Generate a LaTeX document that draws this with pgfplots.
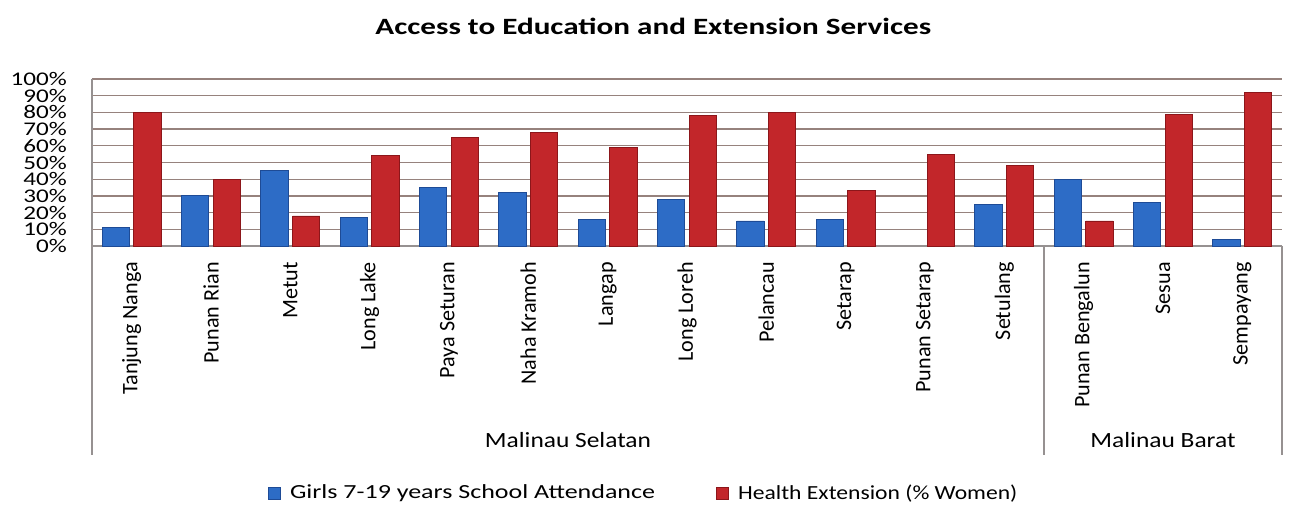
\documentclass[border=0pt]{standalone}
\usepackage{fontspec}
\setmainfont{Carlito}
\usepackage{graphicx}
\usepackage{pgfplots}
\pgfplotsset{compat=1.18}
\newcommand{\sx}[2]{\scalebox{#1}[1]{#2}}
\definecolor{bluefill}{RGB}{45,108,198}
\definecolor{blueedge}{RGB}{30,75,150}
\definecolor{redfill}{RGB}{194,38,42}
\definecolor{rededge}{RGB}{140,22,26}
\definecolor{gridc}{RGB}{150,130,125}
\definecolor{axc}{RGB}{150,145,145}
\pgfplotsset{mylegend/.style={legend image code/.code={\path[draw=none,fill=none] (0pt,0pt) -- (14pt,0pt); \path[##1] (0pt,-4.5pt) rectangle (9pt,4.5pt);}}}
\begin{document}
\begin{tikzpicture}
\useasboundingbox (0,0) rectangle (967.5pt,379.5pt);
\node[font=\fontsize{17.5}{20}\selectfont\bfseries] at (490pt,360pt) {\sx{1.335}{Access to Education and Extension Services}};
\begin{axis}[
  at={(69pt,195pt)}, anchor=south west,
  scale only axis, width=892.5pt, height=125.25pt,
  xmin=-0.5, xmax=14.5, ymin=0, ymax=100,
  axis x line=bottom, axis y line=left,
  axis line style={-, draw=axc, line width=0.8pt},
  major tick length=0pt,
  ymajorgrids, grid style={draw=gridc, line width=1pt},
  ytick={0,10,...,100},
  /pgf/number format/assume math mode=true,
  yticklabel={\sx{1.3}{\pgfmathprintnumber{\tick}\%}},
  yticklabel style={font=\fontsize{14.5}{14.5}\selectfont, anchor=east, inner sep=0pt},
  yticklabel shift=18.75pt,
  xtick={0,...,14},
  xticklabels={Tanjung Nanga,Punan Rian,Metut,Long Lake,Paya Seturan,Naha Kramoh,Langap,Long Loreh,Pelancau,Setarap,Punan Setarap,Setulang,Punan Bengalun,Sesua,Sempayang},
  xticklabel style={font=\fontsize{16.6}{16.6}\selectfont, rotate=90, anchor=east, inner sep=0pt},
  xticklabel shift=12pt,
  clip=false,
  legend style={at={(axis description cs:0.464,-1.479)}, anchor=center, draw=none, fill=none,
    font=\fontsize{15}{15}\selectfont, /tikz/every even column/.append style={column sep=44pt}},
  legend columns=2,
]
\addplot[ybar, bar width=0.345, bar shift=-0.2, draw=blueedge, line width=0.6pt, fill=bluefill, mylegend]
coordinates {(0,11) (1,30) (2,45) (3,17) (4,35) (5,32) (6,16) (7,28) (8,15) (9,16) (11,25) (12,40) (13,26) (14,4)};
\addlegendentry{\sx{1.3}{Girls 7-19 years School Attendance}}
\addplot[ybar, bar width=0.345, bar shift=0.2, draw=rededge, line width=0.6pt, fill=redfill, mylegend]
coordinates {(0,80) (1,40) (2,18) (3,54) (4,65) (5,68) (6,59) (7,78) (8,80) (9,33) (10,55) (11,48) (12,15) (13,79) (14,92)};
\addlegendentry{\sx{1.18}{Health Extension (\% Women)}}
\draw[axc, line width=0.8pt] (axis cs:-0.5,0) -- ++(0pt,-156.75pt);
\draw[axc, line width=0.8pt] (axis cs:11.5,0) -- ++(0pt,-156.75pt);
\draw[axc, line width=0.8pt] (axis cs:14.5,0) -- ++(0pt,-156.75pt);
\node[font=\fontsize{16.3}{16.3}\selectfont] at (axis cs:5.5,0) [yshift=-145.5pt] {\sx{1.17}{Malinau Selatan}};
\node[font=\fontsize{16.3}{16.3}\selectfont] at (axis cs:13,0) [yshift=-145.5pt] {\sx{1.17}{Malinau Barat}};
\end{axis}
\end{tikzpicture}
\end{document}
